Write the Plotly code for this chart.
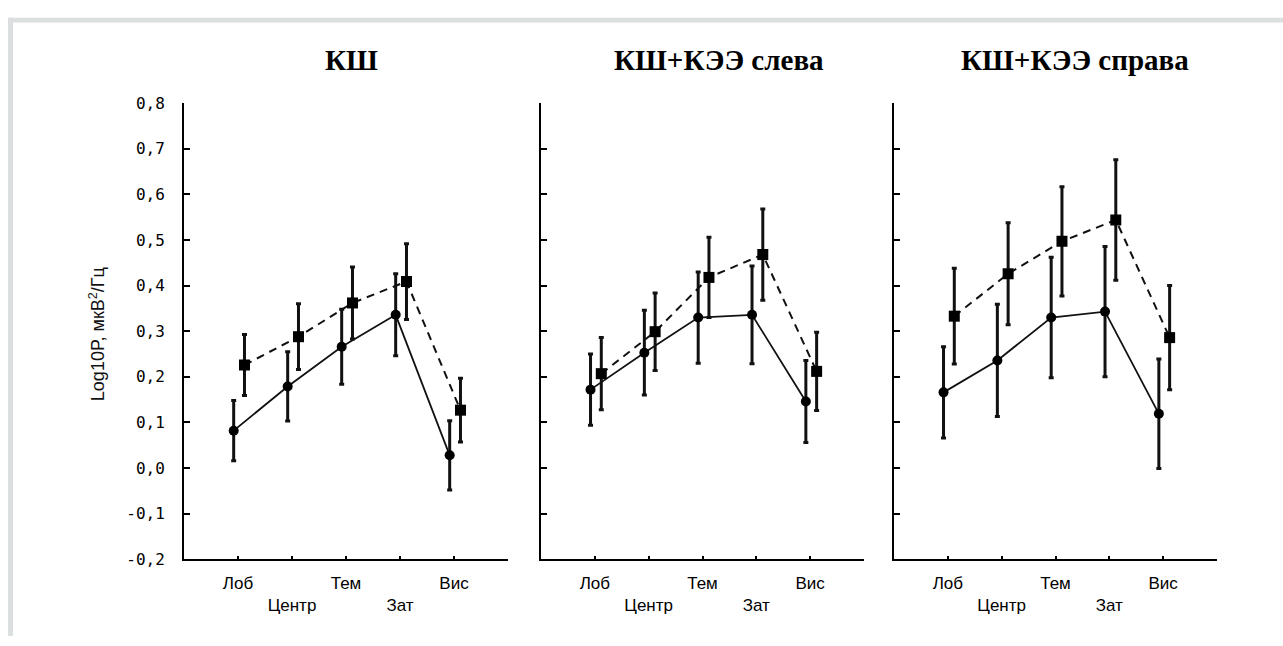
import plotly.graph_objects as go

# ---- data ----
regions = ["Лоб", "Центр", "Тем", "Зат", "Вис"]
panel_titles = ["КШ", "КШ+КЭЭ слева", "КШ+КЭЭ справа"]

ksh_circle = [0.082, 0.179, 0.266, 0.336, 0.028]
ksh_circle_err = [0.066, 0.076, 0.082, 0.090, 0.076]
ksh_square = [0.226, 0.288, 0.362, 0.409, 0.127]
ksh_square_err = [0.067, 0.072, 0.079, 0.083, 0.070]

left_circle = [0.172, 0.253, 0.330, 0.336, 0.146]
left_circle_err = [0.078, 0.093, 0.100, 0.107, 0.090]
left_square = [0.207, 0.299, 0.418, 0.468, 0.212]
left_square_err = [0.079, 0.085, 0.088, 0.100, 0.086]

right_circle = [0.166, 0.236, 0.330, 0.343, 0.119]
right_circle_err = [0.100, 0.123, 0.132, 0.143, 0.120]
right_square = [0.333, 0.426, 0.497, 0.544, 0.286]
right_square_err = [0.105, 0.112, 0.120, 0.132, 0.114]

y_tickvals = [-0.2, -0.1, 0.0, 0.1, 0.2, 0.3, 0.4, 0.5, 0.6, 0.7, 0.8]
y_ticktext = ["-0,2", "-0,1", "0,0", "0,1", "0,2", "0,3", "0,4", "0,5", "0,6", "0,7", "0,8"]
y_title = "Log10P, мкВ<sup>2</sup>/Гц"

panels = [
    (ksh_circle, ksh_circle_err, ksh_square, ksh_square_err),
    (left_circle, left_circle_err, left_square, left_square_err),
    (right_circle, right_circle_err, right_square, right_square_err),
]

# ---- layout geometry (pixels) ----
W, H = 1283, 646
x_px = [(184, 508), (541, 864), (894, 1217)]
title_cx = [351, 719, 1075]
y_top_px, y_bot_px = 97, 567
circle_off = -0.08
square_off = 0.12

fig = go.Figure()
base = list(range(1, len(regions) + 1))
tick_labels = [("<br>" + r) if i % 2 == 1 else r for i, r in enumerate(regions)]

for k, (c, ce, s, se) in enumerate(panels):
    xa = "x" if k == 0 else f"x{k+1}"
    ya = "y" if k == 0 else f"y{k+1}"
    fig.add_trace(go.Scatter(
        x=[b + circle_off for b in base], y=c, xaxis=xa, yaxis=ya,
        mode="lines+markers",
        line=dict(color="#111", width=1.8),
        marker=dict(symbol="circle", size=10, color="#000"),
        error_y=dict(type="data", array=ce, visible=True, color="#111", thickness=3, width=2.5),
        showlegend=False))
    fig.add_trace(go.Scatter(
        x=[b + square_off for b in base], y=s, xaxis=xa, yaxis=ya,
        mode="lines+markers",
        line=dict(color="#111", width=2, dash="8px,6px"),
        marker=dict(symbol="square", size=11, color="#000"),
        error_y=dict(type="data", array=se, visible=True, color="#111", thickness=3, width=2.5),
        showlegend=False))

    x0, x1 = x_px[k]
    xkey = "xaxis" if k == 0 else f"xaxis{k+1}"
    ykey = "yaxis" if k == 0 else f"yaxis{k+1}"
    fig.layout[xkey] = dict(
        domain=[x0 / W, x1 / W], range=[0, 6], anchor=ya,
        tickvals=base, ticktext=tick_labels,
        ticks="inside", ticklen=3, tickwidth=2, tickcolor="#000",
        showline=True, linecolor="#000", linewidth=2,
        showgrid=False, zeroline=False,
        tickfont=dict(family="Liberation Sans, Arial", size=17, color="#000"),
        ticklabelstandoff=7,
    )
    fig.layout[ykey] = dict(
        domain=[1 - y_bot_px / H, 1 - y_top_px / H], range=[-0.2, 0.8], anchor=xa,
        tickvals=y_tickvals, ticktext=y_ticktext, showticklabels=(k == 0),
        ticks="inside", ticklen=6, tickwidth=1.5, tickcolor="#000",
        showline=True, linecolor="#000", linewidth=2,
        showgrid=False, zeroline=False,
        tickfont=dict(family="DejaVu Sans Mono", size=16, color="#000"),
        ticklabelstandoff=14,
    )
    fig.add_annotation(
        text="<b>" + panel_titles[k] + "</b>", x=title_cx[k] / W, y=1 - 53 / H,
        xref="paper", yref="paper", showarrow=False, xanchor="center", yanchor="middle",
        font=dict(family="Liberation Serif, Times New Roman", size=29, color="#000"))

fig.add_annotation(
    text=y_title, x=97 / W, y=1 - 335 / H, xref="paper", yref="paper",
    showarrow=False, textangle=-90, xanchor="center", yanchor="middle",
    font=dict(family="Liberation Sans, Arial", size=18, color="#111"))

# light gray frame (top and left)
frame = "#dcdfdf"
fig.add_shape(type="rect", xref="paper", yref="paper", x0=8 / W, x1=13 / W, y0=0, y1=1 - 9 / H,
              fillcolor=frame, line=dict(width=0), layer="below")
fig.add_shape(type="rect", xref="paper", yref="paper", x0=8 / W, x1=1, y0=1 - 14 / H, y1=1 - 9 / H,
              fillcolor=frame, line=dict(width=0), layer="below")

fig.update_layout(
    width=W, height=H, margin=dict(l=0, r=0, t=0, b=0),
    paper_bgcolor="#fff", plot_bgcolor="#fff",
)

fig.write_html("out.html")
